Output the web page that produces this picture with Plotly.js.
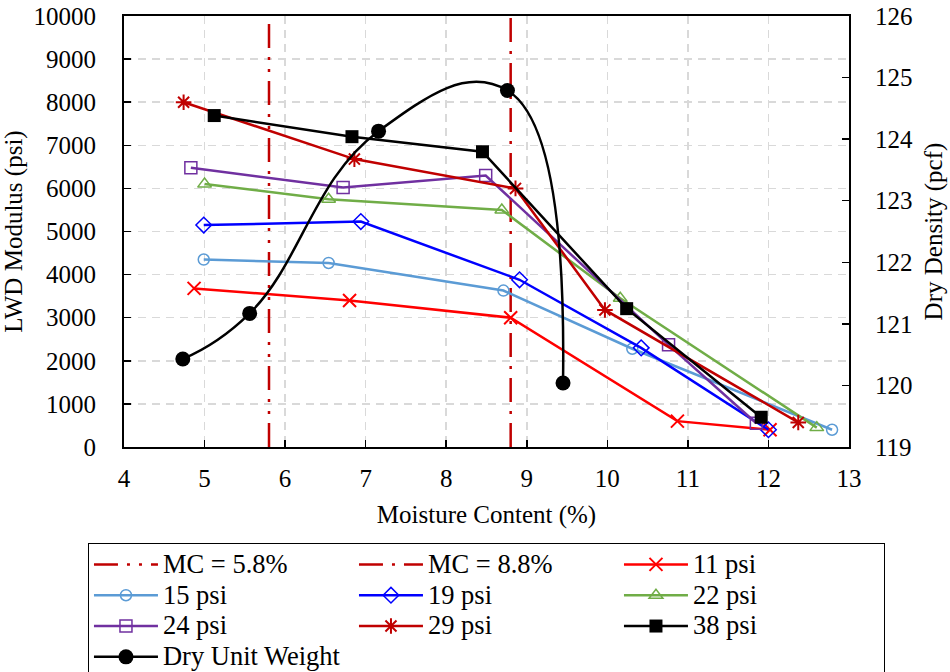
<!DOCTYPE html>
<html>
<head>
<meta charset="utf-8">
<script src="https://cdn.plot.ly/plotly-3.0.1.min.js"></script>
<style>html,body{margin:0;padding:0;background:#fff;}#chart{width:950px;height:672px;}</style>
</head>
<body>
<div id="chart"></div>
<script>
// Vertical reference lines (moisture content)
const mcValues = [5.8, 8.8];
const mcNames = ['MC = 5.8%', 'MC = 8.8%'];
const mcYRange = [0, 10000];

// LWD modulus series (psi) vs moisture content (%)
const x11 = [4.87, 6.80, 8.80, 10.87, 12.02];
const y11 = [3680, 3400, 3000, 600, 400];
const x15 = [4.99, 6.54, 8.71, 10.31, 12.79];
const y15 = [4350, 4270, 3630, 2280, 400];
const x19 = [4.99, 6.94, 8.91, 10.42, 12.00];
const y19 = [5150, 5230, 3880, 2300, 400];
const x22 = [5.00, 6.54, 8.69, 10.16, 12.60];
const y22 = [6100, 5750, 5500, 3450, 450];
const x24 = [4.83, 6.72, 8.49, 10.76, 11.85];
const y24 = [6480, 6020, 6300, 2370, 550];
const x29 = [4.74, 6.86, 8.86, 9.97, 12.37];
const y29 = [8000, 6680, 6000, 3180, 570];
const x38 = [5.12, 6.83, 8.45, 10.24, 11.91];
const y38 = [7690, 7200, 6850, 3210, 690];

// Dry unit weight (pcf), secondary axis
const xDry = [4.73, 5.56, 7.16, 8.76, 9.45];
const yDry = [120.43, 121.17, 124.13, 124.79, 120.04];

const seriesNames = ['11 psi', '15 psi', '19 psi', '22 psi', '24 psi', '29 psi', '38 psi', 'Dry Unit Weight'];
const xTicks = [4, 5, 6, 7, 8, 9, 10, 11, 12, 13];
const yTicks = [0, 1000, 2000, 3000, 4000, 5000, 6000, 7000, 8000, 9000, 10000];
const y2Ticks = [119, 120, 121, 122, 123, 124, 125, 126];

const FONT = 'Liberation Serif';
const lg = s => '<span style="font-family:\'Liberation Serif\';font-size:26.5px">' + s + '</span>';

const traces = [];
const mcDash = ['24px,9px,3px,9px,3px,9px', '24px,9px,3px,9px'];
mcValues.forEach((v, i) => {
  traces.push({
    x: [v, v], y: mcYRange, mode: 'lines', name: lg(mcNames[i]),
    line: {color: '#C00000', width: 2.5, dash: mcDash[i]}, xaxis: 'x', yaxis: 'y'
  });
});

function series(x, y, name, color, symbol, size, lw) {
  return {
    x: x, y: y, mode: 'lines+markers', name: lg(name),
    line: {color: color, width: 2.5},
    marker: {symbol: symbol, size: size, color: color,
             line: {color: color, width: lw}},
    xaxis: 'x', yaxis: 'y'
  };
}
traces.push(series(x11, y11, seriesNames[0], '#FF0000', 'x-thin-open', 13, 2));
traces.push(series(x15, y15, seriesNames[1], '#5B9BD5', 'circle-open', 11, 1.5));
traces.push(series(x19, y19, seriesNames[2], '#0000FF', 'diamond-open', 12, 1.5));
traces.push(series(x22, y22, seriesNames[3], '#70AD47', 'triangle-up-open', 12, 1.5));
traces.push(series(x24, y24, seriesNames[4], '#7030A0', 'square-open', 12, 1.5));
traces.push(series(x29, y29, seriesNames[5], '#C00000', 'asterisk-open', 13, 2));
traces.push(series(x38, y38, seriesNames[6], '#000000', 'square', 13, 0));
traces.push({
  x: xDry, y: yDry, mode: 'lines+markers', name: lg(seriesNames[7]),
  line: {color: '#000000', width: 2.5, shape: 'spline', smoothing: 1.3},
  marker: {symbol: 'circle', size: 15, color: '#000000'},
  xaxis: 'x', yaxis: 'y2'
});

const gridColor = '#D9D9D9';
const tf = {family: FONT, size: 25, color: '#000'};
const layout = {
  width: 950, height: 672,
  margin: {l: 124, r: 101, t: 16, b: 225, autoexpand: false},
  paper_bgcolor: '#ffffff', plot_bgcolor: '#ffffff',
  font: {family: FONT, size: 25, color: '#000000'},
  showlegend: true,
  xaxis: {
    range: [4, 13], tickvals: xTicks, ticktext: xTicks.map(String),
    ticks: 'inside', ticklen: 7, tickwidth: 1.5, tickcolor: '#000',
    showline: true, linecolor: '#000', linewidth: 2, mirror: true,
    showgrid: true, gridcolor: gridColor, gridwidth: 1.5, griddash: '8px,6px',
    zeroline: false, ticklabelstandoff: 8,
    tickfont: tf,
    title: {text: 'Moisture Content (%)', font: tf, standoff: 14}
  },
  yaxis: {
    range: [0, 10000], tickvals: yTicks, ticktext: yTicks.map(String),
    ticks: 'inside', ticklen: 7, tickwidth: 1.5, tickcolor: '#000',
    showline: true, linecolor: '#000', linewidth: 2, mirror: false,
    showgrid: true, gridcolor: gridColor, gridwidth: 1.5, griddash: '8px,6px',
    zeroline: false, ticklabelstandoff: 21,
    tickfont: tf,
    title: {text: 'LWD Modulus (psi)', font: tf, standoff: 8}
  },
  yaxis2: {
    overlaying: 'y', side: 'right', anchor: 'x',
    range: [119, 126], tickvals: y2Ticks, ticktext: y2Ticks.map(String),
    ticks: 'inside', ticklen: 7, tickwidth: 1.5, tickcolor: '#000',
    showline: true, linecolor: '#000', linewidth: 2,
    showgrid: false, zeroline: false, ticklabelstandoff: 19,
    tickfont: tf,
    title: {text: 'Dry Density (pcf)', font: tf, standoff: 12}
  },
  legend: {
    orientation: 'h', x: -0.0497, xanchor: 'left', y: -0.2227, yanchor: 'top',
    xref: 'paper', yref: 'paper',
    bordercolor: '#000', borderwidth: 1, bgcolor: '#ffffff',
    font: {family: FONT, size: 21.4, color: '#000'},
    itemwidth: 64, entrywidth: 186, traceorder: 'normal'
  }
};

Plotly.newPlot('chart', traces, layout, {displayModeBar: false, staticPlot: true});
</script>
</body>
</html>
